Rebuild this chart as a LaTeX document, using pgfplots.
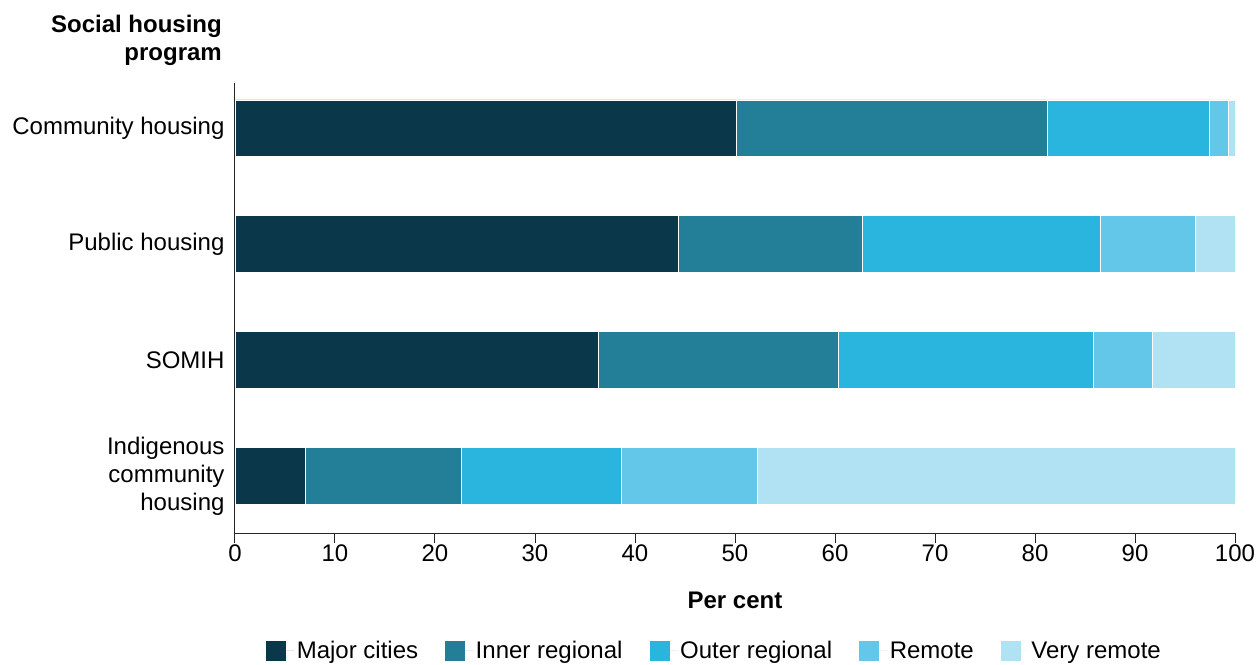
\documentclass[border=0pt]{standalone}
\usepackage{pgfplots}
\pgfplotsset{compat=1.18}
\usepackage{fontspec}
\setmainfont{Liberation Sans}
\definecolor{cA}{HTML}{0B374B}
\definecolor{cB}{HTML}{237E98}
\definecolor{cC}{HTML}{29B5DD}
\definecolor{cD}{HTML}{62C7E8}
\definecolor{cE}{HTML}{B1E2F3}
\begin{document}
\begin{tikzpicture}
\begin{axis}[
  scale only axis, width=1000pt, height=450pt,
  xbar stacked, bar width=0.49,
  xmin=0, xmax=100, ymin=-0.49, ymax=3.39,
  axis x line*=bottom, axis y line*=left,
  axis line style={black!85, line width=1pt},
  xtick={0,10,...,100},
  ytick={0,1,2,3},
  yticklabels={Indigenous\\community\\housing, SOMIH, Public housing, Community housing},
  /pgf/number format/assume math mode=true,
  ticklabel style={font=\fontsize{24}{28}\selectfont},
  yticklabel style={align=right, xshift=3pt},
  xticklabel style={yshift=2pt},
  y tick style={draw=none},
  x tick style={black!85, line width=1pt},
  tick align=outside, major tick length=10pt,
  xlabel={\textbf{Per cent}},
  xlabel style={font=\fontsize{24}{28}\selectfont, at={(axis description cs:0.5,-0.149)}, anchor=center},
  legend columns=5,
  legend image code/.code={\fill[#1] (0pt,-10.5pt) rectangle (21pt,10.5pt); \path (21pt,0pt) -- (29pt,0pt);},
  legend style={draw=none, font=\fontsize{24}{28}\selectfont, at={(0.479,-0.262)}, anchor=center,
    /tikz/every even column/.append style={column sep=24pt}},
]
\addplot[fill=cA, draw=white, line width=0.6pt] coordinates {(7.0,0) (36.3,1) (44.3,2) (50.1,3)};
\addplot[fill=cB, draw=white, line width=0.6pt] coordinates {(15.6,0) (24.0,1) (18.4,2) (31.1,3)};
\addplot[fill=cC, draw=white, line width=0.6pt] coordinates {(16.0,0) (25.5,1) (23.8,2) (16.2,3)};
\addplot[fill=cD, draw=white, line width=0.6pt] coordinates {(13.6,0) (5.9,1) (9.5,2) (1.9,3)};
\addplot[fill=cE, draw=white, line width=0.6pt] coordinates {(47.8,0) (8.3,1) (4.0,2) (0.7,3)};
\legend{Major cities, Inner regional, Outer regional, Remote, Very remote}
\end{axis}
\node[anchor=south east, inner sep=0pt, align=right, font=\fontsize{24}{28}\selectfont\bfseries]
  at ([xshift=-13pt,yshift=17pt]current axis.north west) {Social housing\\program};
\pgfresetboundingbox
\path ([xshift=-235pt,yshift=-131pt]current axis.south west) rectangle ([xshift=23pt,yshift=83pt]current axis.north east);
\end{tikzpicture}
\end{document}
